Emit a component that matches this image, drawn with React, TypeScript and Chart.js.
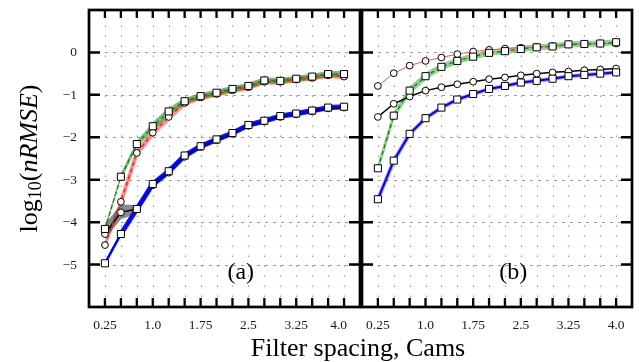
import React, { useEffect, useRef } from "react";
import { Chart, registerables } from "chart.js";

Chart.register(...registerables);

// Filter spacing (Cams)
const spacing = [0.25, 0.5, 0.75, 1.0, 1.25, 1.5, 1.75, 2.0, 2.25, 2.5, 2.75, 3.0, 3.25, 3.5, 3.75, 4.0];

// Panel (a) series: log10(nRMSE)
const aGreen = [-4.16, -2.93, -2.16, -1.74, -1.39, -1.15, -1.03, -0.95, -0.86, -0.79, -0.66, -0.67, -0.62, -0.57, -0.51, -0.51];
const aRed = [-4.54, -3.52, -2.37, -1.89, -1.52, -1.19, -1.06, -0.98, -0.89, -0.82, -0.69, -0.69, -0.64, -0.60, -0.54, -0.57];
const aBlue = [-4.97, -4.28, -3.69, -3.10, -2.80, -2.43, -2.21, -2.05, -1.90, -1.71, -1.61, -1.50, -1.44, -1.37, -1.30, -1.28];
const aBlack = [-4.28, -3.77, -3.69, -3.13, -2.83, -2.46, -2.23, -2.07, -1.92, -1.73, -1.63, -1.52, -1.46, -1.39, -1.32, -1.30];
const aBlackHi = [-4.05, -3.58, -3.60, -3.05, -2.76, -2.39, -2.17, -2.02, -1.87, -1.68, -1.58, -1.47, -1.41, -1.34, -1.27, -1.25];
const aBlackLo = [-4.40, -3.93, -3.80, -3.20, -2.90, -2.52, -2.29, -2.12, -1.97, -1.78, -1.68, -1.57, -1.51, -1.44, -1.37, -1.34];

// Panel (b) series: log10(nRMSE)
const bRed = [-0.79, -0.49, -0.31, -0.20, -0.12, -0.04, 0.02, 0.06, 0.09, 0.11, 0.13, 0.15, 0.19, 0.20, 0.21, 0.21];
const bGreen = [-2.73, -1.49, -0.90, -0.56, -0.34, -0.20, -0.10, -0.01, 0.03, 0.08, 0.12, 0.14, 0.19, 0.20, 0.21, 0.24];
const bBlack = [-1.52, -1.21, -1.04, -0.90, -0.82, -0.75, -0.69, -0.63, -0.59, -0.54, -0.50, -0.47, -0.45, -0.42, -0.40, -0.38];
const bBlue = [-3.46, -2.55, -1.92, -1.55, -1.30, -1.11, -0.98, -0.86, -0.79, -0.71, -0.67, -0.62, -0.56, -0.53, -0.50, -0.47];

// Axes
const xGridValues = [0.25, 0.5, 0.75, 1.0, 1.25, 1.5, 1.75, 2.0, 2.25, 2.5, 2.75, 3.0, 3.25, 3.5, 3.75, 4.0];
const xTickValues = [0.25, 1.0, 1.75, 2.5, 3.25, 4.0];
const xTickLabels = ["0.25", "1.0", "1.75", "2.5", "3.25", "4.0"];
const yTickValues = [-5, -4, -3, -2, -1, 0];
const yTickLabels = ["\u22125", "\u22124", "\u22123", "\u22122", "\u22121", "0"];
const xMin = 0;
const xMax = 4.25;
const yMin = -6;
const yMax = 1;

const SERIF = '"Liberation Serif", "DejaVu Serif", serif';

const pts = (ys: number[]) => spacing.map((x, i) => ({ x, y: ys[i] }));

function markerLine(ys: number[], color: string, width: number, shape: "rect" | "circle", order: number, dash: number[] = []) {
  return {
    data: pts(ys),
    borderColor: color,
    borderWidth: width,
    borderDash: dash,
    pointStyle: shape,
    pointRadius: shape === "rect" ? 5 : 3.4,
    pointBackgroundColor: "#ffffff",
    pointBorderColor: "#000000",
    pointBorderWidth: 1,
    fill: false,
    order,
  };
}

// widths: band width for the first segments, then the full width
function band(ys: number[], color: string, width: number, order: number, startWidths: number[] = []) {
  return {
    data: pts(ys),
    borderColor: color,
    borderWidth: width,
    borderJoinStyle: "round",
    borderCapStyle: "round",
    pointRadius: 0,
    fill: false,
    order,
    segment: {
      borderWidth: (c: any) => (c.p0DataIndex < startWidths.length ? startWidths[c.p0DataIndex] : width),
    },
  };
}

function drawYTitle(ctx: CanvasRenderingContext2D, cx: number, cy: number) {
  const parts = [
    { t: "log", f: `26px ${SERIF}`, dy: 0 },
    { t: "10", f: `18px ${SERIF}`, dy: 4 },
    { t: "(", f: `26px ${SERIF}`, dy: 0 },
    { t: "nRMSE", f: `italic 26px ${SERIF}`, dy: 0 },
    { t: ")", f: `26px ${SERIF}`, dy: 0 },
  ];
  ctx.save();
  let total = 0;
  const widths = parts.map((p) => {
    ctx.font = p.f;
    const w = ctx.measureText(p.t).width;
    total += w;
    return w;
  });
  ctx.translate(cx, cy);
  ctx.rotate(-Math.PI / 2);
  ctx.fillStyle = "#000";
  ctx.textBaseline = "alphabetic";
  ctx.textAlign = "left";
  let xx = -total / 2;
  parts.forEach((p, i) => {
    ctx.font = p.f;
    ctx.fillText(p.t, xx, p.dy);
    xx += widths[i];
  });
  ctx.restore();
}

function axesPlugin(panel: "a" | "b") {
  return {
    id: "axes_" + panel,
    beforeDatasetsDraw(chart: any) {
      const { ctx, chartArea } = chart;
      const { left, right, top, bottom } = chartArea;
      const x = chart.scales.x;
      const y = chart.scales.y;
      ctx.save();
      ctx.beginPath();
      ctx.rect(left, top, right - left, bottom - top);
      ctx.clip();
      ctx.strokeStyle = "#9c9c9c";
      ctx.lineWidth = 1.2;
      ctx.setLineDash([1.6, 8.4]);
      for (const v of xGridValues) {
        const px = Math.round(x.getPixelForValue(v)) + 0.5;
        ctx.beginPath();
        ctx.moveTo(px, bottom);
        ctx.lineTo(px, top);
        ctx.stroke();
      }
      ctx.lineWidth = 1;
      ctx.setLineDash([3, 5]);
      for (const v of yTickValues) {
        const py = Math.round(y.getPixelForValue(v)) + 0.5;
        ctx.beginPath();
        ctx.moveTo(left, py);
        ctx.lineTo(right, py);
        ctx.stroke();
      }
      ctx.restore();
    },
    afterDatasetsDraw(chart: any) {
      const { ctx, chartArea } = chart;
      const { left, right, top, bottom } = chartArea;
      const x = chart.scales.x;
      const y = chart.scales.y;
      ctx.save();
      ctx.strokeStyle = "#000";
      ctx.setLineDash([]);
      ctx.lineCap = "butt";
      // top / bottom ticks
      ctx.lineWidth = 2.3;
      for (const v of xGridValues) {
        const px = x.getPixelForValue(v);
        ctx.beginPath();
        ctx.moveTo(px, top);
        ctx.lineTo(px, top + 8);
        ctx.moveTo(px, bottom);
        ctx.lineTo(px, bottom - 9);
        ctx.stroke();
      }
      // left / right ticks
      ctx.lineWidth = 2.5;
      for (const v of yTickValues) {
        const py = y.getPixelForValue(v);
        ctx.beginPath();
        ctx.moveTo(left, py);
        ctx.lineTo(left + 11, py);
        ctx.moveTo(right, py);
        ctx.lineTo(right - 11, py);
        ctx.stroke();
      }
      // frame
      ctx.lineWidth = 2.7;
      ctx.strokeRect(left, top, right - left, bottom - top);

      // x tick labels
      ctx.fillStyle = "#1a1a1a";
      ctx.font = `13.5px ${SERIF}`;
      ctx.textBaseline = "middle";
      xTickValues.forEach((v, i) => {
        const px = x.getPixelForValue(v);
        if (panel === "a" && i === xTickValues.length - 1) {
          ctx.textAlign = "right";
          ctx.fillText(xTickLabels[i], px + 3, 325);
        } else {
          ctx.textAlign = "center";
          ctx.fillText(xTickLabels[i], px, 325);
        }
      });

      if (panel === "a") {
        // y tick labels
        ctx.textAlign = "right";
        yTickValues.forEach((v, i) => {
          ctx.fillText(yTickLabels[i], left - 12, y.getPixelForValue(v) + 0.5);
        });
        drawYTitle(ctx, 37, (top + bottom) / 2);
      }

      // panel label
      ctx.fillStyle = "#000";
      ctx.font = `24px ${SERIF}`;
      ctx.textAlign = "center";
      ctx.textBaseline = "middle";
      ctx.fillText(panel === "a" ? "(a)" : "(b)", x.getPixelForValue(2.38), y.getPixelForValue(-5.18));
      ctx.restore();
    },
  };
}

function makeConfig(panel: "a" | "b"): any {
  const datasets =
    panel === "a"
      ? [
          markerLine(aBlue, "#0000ff", 2, "rect", 0),
          markerLine(aGreen, "#1d7a1d", 1.3, "rect", 1, [4, 3]),
          markerLine(aRed, "#ff1a1a", 1.3, "circle", 2, [4, 3]),
          markerLine(aBlack, "#000000", 1.5, "circle", 3),
          band(aBlue, "rgba(0,0,255,0.9)", 5, 4, [2.5]),
          { ...band(aBlackHi, "rgba(0,0,0,0)", 0, 5), fill: "+1", backgroundColor: "rgba(60,60,60,0.6)" },
          { ...band(aBlackLo, "rgba(0,0,0,0)", 0, 6) },
          band(aGreen, "rgba(30,150,30,0.6)", 6, 7, [1.5, 3, 4.5]),
          band(aRed, "rgba(255,50,50,0.55)", 5.5, 8, [3, 4, 5]),
        ]
      : [
          markerLine(bBlue, "#0000ff", 2, "rect", 0),
          markerLine(bGreen, "#1d7a1d", 1.3, "rect", 1, [4, 3]),
          markerLine(bBlack, "#000000", 1.5, "circle", 2),
          markerLine(bRed, "#ff5555", 1, "circle", 3),
          band(bBlue, "rgba(40,40,255,0.45)", 4, 4),
          band(bGreen, "rgba(60,170,60,0.55)", 6, 5, [3, 4.5]),
        ];
  return {
    type: "line",
    data: { datasets },
    options: {
      animation: false,
      responsive: false,
      events: [],
      layout: {
        padding: panel === "a" ? { left: 89, right: 5, top: 10, bottom: 55 } : { left: 5, right: 7, top: 10, bottom: 55 },
      },
      scales: {
        x: { type: "linear", min: xMin, max: xMax, display: false },
        y: { type: "linear", min: yMin, max: yMax, display: false },
      },
      plugins: {
        legend: { display: false },
        tooltip: { enabled: false },
        filler: { propagate: false },
      },
      elements: { line: { tension: 0 } },
    },
    plugins: [axesPlugin(panel)],
  };
}

export default function App() {
  const leftRef = useRef<HTMLCanvasElement>(null);
  const rightRef = useRef<HTMLCanvasElement>(null);
  useEffect(() => {
    const c1 = new Chart(leftRef.current as HTMLCanvasElement, makeConfig("a"));
    const c2 = new Chart(rightRef.current as HTMLCanvasElement, makeConfig("b"));
    return () => {
      c1.destroy();
      c2.destroy();
    };
  }, []);
  return (
    <div style={{ position: "fixed", left: 0, top: 0, width: 639, height: 362, background: "#fff", overflow: "hidden" }}>
      <canvas ref={leftRef} width={366} height={362} style={{ position: "absolute", left: 0, top: 0, width: 366, height: 362 }} />
      <canvas ref={rightRef} width={283} height={362} style={{ position: "absolute", left: 356, top: 0, width: 283, height: 362 }} />
      <div
        style={{
          position: "absolute",
          left: 0,
          top: 335,
          width: 716,
          textAlign: "center",
          fontFamily: SERIF,
          fontSize: 26,
          lineHeight: "26px",
          color: "#000",
          whiteSpace: "nowrap",
        }}
      >
        Filter spacing, Cams
      </div>
    </div>
  );
}
